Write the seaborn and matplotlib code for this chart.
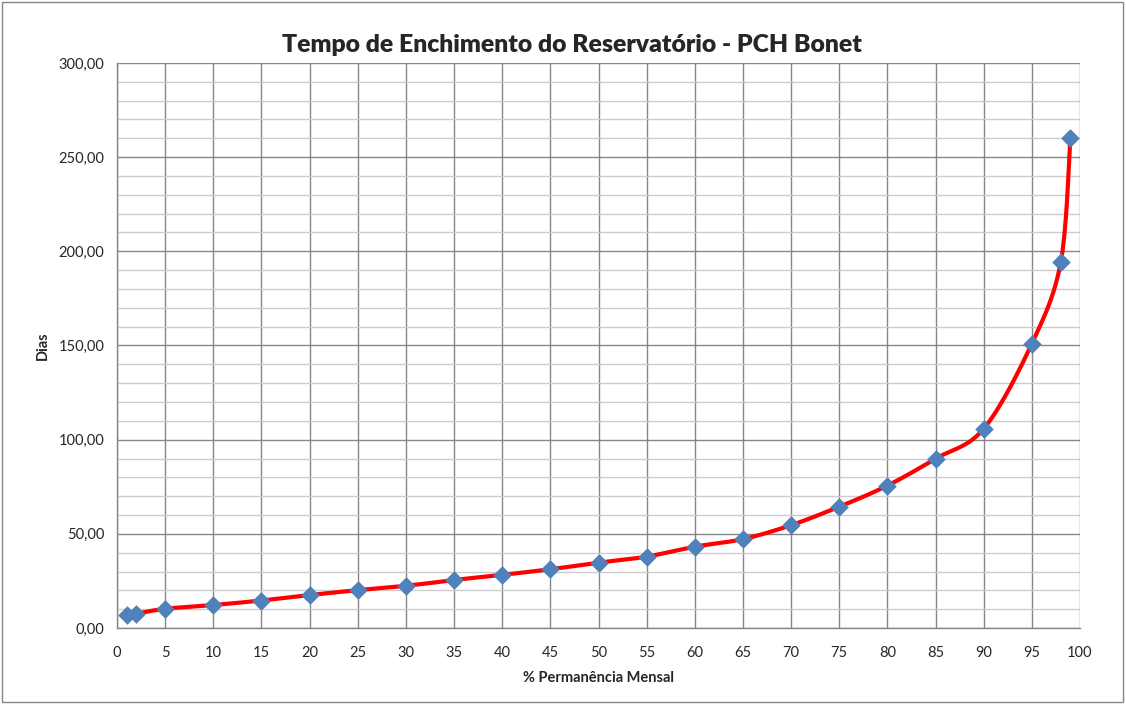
import numpy as np
import pandas as pd
import matplotlib
matplotlib.use("Agg")
import matplotlib.pyplot as plt
import seaborn as sns
from matplotlib.patches import Rectangle
from matplotlib.ticker import MultipleLocator, FuncFormatter

# values
permanencia = [1, 2, 5, 10, 15, 20, 25, 30, 35, 40, 45, 50, 55, 60, 65, 70, 75, 80, 85, 90, 95, 98, 99]
dias = [7.0, 7.6, 10.2, 12.2, 14.6, 17.5, 20.1, 22.4, 25.5, 28.2, 31.2, 34.7, 37.9, 43.2, 47.2,
        54.6, 64.4, 75.6, 89.9, 105.8, 151.0, 194.2, 260.4]

title = "Tempo de Enchimento do Reservatório - PCH Bonet"
xlabel = "% Permanência Mensal"
ylabel = "Dias"


def smooth_curve(x, y, n=30):
    # Excel style smoothed line (cardinal bezier, tension 1/6)
    x = np.asarray(x, float)
    y = np.asarray(y, float)
    pts = np.column_stack([x, y])
    out = []
    for i in range(len(pts) - 1):
        p0 = pts[i - 1] if i > 0 else pts[i]
        p1 = pts[i]
        p2 = pts[i + 1]
        p3 = pts[i + 2] if i + 2 < len(pts) else pts[i + 1]
        c1 = p1 + (p2 - p0) / 6
        c2 = p2 - (p3 - p1) / 6
        t = np.linspace(0, 1, n)[:, None]
        seg = ((1 - t) ** 3) * p1 + 3 * ((1 - t) ** 2) * t * c1 + 3 * (1 - t) * t ** 2 * c2 + t ** 3 * p2
        out.append(seg if i == 0 else seg[1:])
    out = np.vstack(out)
    return pd.DataFrame({"x": out[:, 0], "y": out[:, 1]})


sns.set_style("white")
plt.rcParams["font.family"] = ["Lato", "DejaVu Sans"]

fig = plt.figure(figsize=(11.26, 7.04), dpi=100)
ax = fig.add_axes([117 / 1126, 1 - 628 / 704, (1080 - 117) / 1126, (628 - 63) / 704])

curve = smooth_curve(permanencia, dias)
sns.lineplot(data=curve, x="x", y="y", ax=ax, color="#ff0000", linewidth=3.0, sort=False, zorder=3)
df = pd.DataFrame({"x": permanencia, "y": dias})
sns.scatterplot(data=df, x="x", y="y", ax=ax, marker="D", s=80, color="#4f81bd",
                edgecolor="#4f81bd", linewidth=0.5, zorder=4)

ax.set_xlim(0, 100)
ax.set_ylim(0, 300)
ax.xaxis.set_major_locator(MultipleLocator(5))
ax.yaxis.set_major_locator(MultipleLocator(50))
ax.yaxis.set_minor_locator(MultipleLocator(10))
ax.yaxis.set_major_formatter(FuncFormatter(lambda v, p: f"{v:.2f}".replace(".", ",")))

ax.grid(which="major", axis="both", color="#868686", linewidth=1.0)
ax.grid(which="minor", axis="y", color="#cccccc", linewidth=1.0)
ax.set_axisbelow(True)

for s in ["top", "right"]:
    ax.spines[s].set_visible(False)
for s in ["left", "bottom"]:
    ax.spines[s].set_color("#868686")
    ax.spines[s].set_linewidth(1.0)

ax.tick_params(axis="both", which="major", direction="out", length=5, width=1,
               color="#868686", labelsize=10.5, pad=4)
ax.tick_params(axis="y", which="minor", length=0)
ax.tick_params(axis="x", pad=8)

ax.set_xlabel(xlabel, fontsize=10.5, fontweight="bold", labelpad=8)
ax.set_ylabel(ylabel, fontsize=10.5, fontweight="bold", labelpad=6)

fig.text(572 / 1126, 1 - 45 / 704, title, ha="center", va="center",
         fontsize=17.8, fontweight="heavy")

fig.patches.append(Rectangle((0.002, 0.003), 0.995, 0.994, transform=fig.transFigure,
                             fill=False, edgecolor="#868686", linewidth=1))

fig.savefig("out.png", dpi=100)
